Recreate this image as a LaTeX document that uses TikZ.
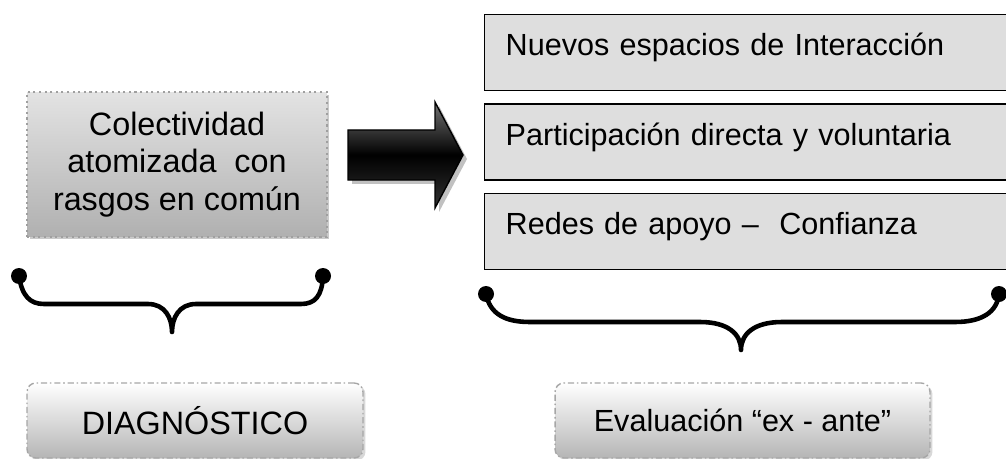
\documentclass[tikz,border=0pt]{standalone}
\usepackage{fontspec}
\setmainfont{Liberation Sans}
\usepackage{tikz}
\usetikzlibrary{positioning,shadows}

\begin{document}
\begin{tikzpicture}[
  x=0.02cm, y=-0.02cm,
  node distance=0.24cm,
  every node/.style={font=\fontsize{17.4pt}{21pt}\selectfont},
  box/.style={draw=gray!75, dotted, line width=1.2pt, top color=gray!22, bottom color=gray!62, align=center, minimum width=6cm, minimum height=2.9cm, font=\fontsize{18.4pt}{21.5pt}\selectfont, drop shadow={shadow xshift=0.05cm, shadow yshift=-0.05cm, fill=gray!70, opacity=.6}},
  listbox/.style={draw, line width=0.8pt, fill=gray!26, anchor=north west, align=left, text width=9.76cm, inner xsep=0.42cm, inner ysep=0pt, text height=0.82cm, text depth=0.70cm},
  tagbox/.style={draw=gray!70, dash pattern=on 3.5pt off 1.6pt on 0.9pt off 1.6pt, line width=0.8pt, rounded corners=5pt, top color=white, bottom color=gray!58, align=center, minimum height=1.5cm, drop shadow={shadow xshift=0.05cm, shadow yshift=-0.05cm, fill=gray!60, opacity=.5}},
  brace/.style={line width=2.6pt, line cap=round, line join=round},
  bigarrow/.style={draw, line width=0.8pt, top color=black!55, bottom color=black!80, middle color=black, drop shadow={shadow xshift=0.08cm, shadow yshift=-0.08cm, fill=gray!70, opacity=.7}}]
\useasboundingbox (0,0) rectangle (1006,459);
\clip (0,0) rectangle (1006,459);
% left side
\node[box] (colect) at (177,164.5) {Colectividad\\atomizada\ \ con\\rasgos en común};
\draw[bigarrow] (348,130) -- (435,130) -- (435,102) -- (463,155) -- (435,208) -- (435,180) -- (348,180) -- cycle;
% right side
\node[listbox] (nuevos) at (484,14) {Nuevos espacios de Interacción};
\node[listbox, below=of nuevos] (partic) {Participación directa y voluntaria};
\node[listbox, below=of partic] (redes) {Redes de apoyo –\ \ Confianza};
% braces
\coordinate (lbl) at (19,276);
\coordinate (lbr) at (323,276);
\coordinate (rbl) at (486,294);
\coordinate (rbr) at (999,294);
\fill (lbl) circle[radius=0.16cm] (lbr) circle[radius=0.16cm];
\fill (rbl) circle[radius=0.16cm] (rbr) circle[radius=0.16cm];
\draw[brace] (lbl) .. controls (22,296) and (30,304) .. (44,304) -- (148,304)
  .. controls (165,304) and (172,318) .. (172,332)
  .. controls (172,318) and (179,304) .. (196,304) -- (301,304)
  .. controls (315,304) and (322,296) .. (lbr);
\draw[brace] (rbl) .. controls (490,314) and (505,322) .. (530,322) -- (700,322)
  .. controls (728,322) and (741,334) .. (741,350)
  .. controls (741,334) and (754,322) .. (782,322) -- (955,322)
  .. controls (982,322) and (997,312) .. (rbr);
% labels
\node[tagbox, minimum width=6.72cm, font=\fontsize{18.4pt}{21pt}\selectfont] (diag) at (195,420.5) {DIAGNÓSTICO};
\node[tagbox, minimum width=7.5cm] (evalua) at (742.5,420.5) {Evaluación “ex - ante”};
\end{tikzpicture}
\end{document}
